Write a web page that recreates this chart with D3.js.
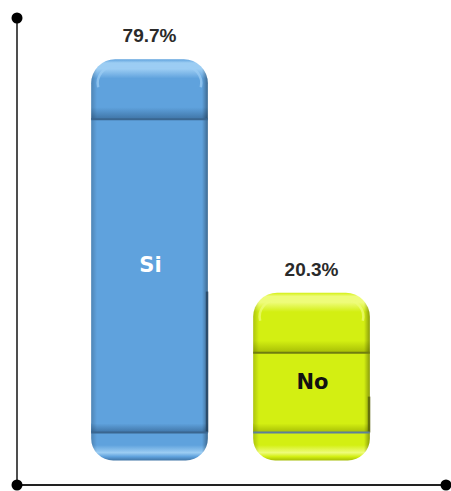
<!DOCTYPE html>
<html>
<head>
<meta charset="utf-8">
<script src="https://cdn.jsdelivr.net/npm/d3@7/dist/d3.min.js"></script>
<style>
  html, body { margin: 0; padding: 0; background: #ffffff; }
  svg { display: block; }
</style>
</head>
<body>
<svg id="chart" width="451" height="491"></svg>
<script>
// ---- data ----
const categories = ["Si", "No"];
const values = [79.7, 20.3];
const valueLabels = ["79.7%", "20.3%"];
const yDomain = [0, 100];

// ---- styling ----
const palettes = [
  { main: "#5fa2dd", light: "#9ccdf3", dark: "#3f74a6", line: "#3a6690", edge: "#24415c", text: "#ffffff", bottomLine: "#3a6690" },
  { main: "#d3ef12", light: "#eefc7a", dark: "#a6bd05", line: "#6f7d10", edge: "#55600a", text: "#111111", bottomLine: "#5c7f9a" }
];

const svg = d3.select("#chart");

const axisX = 17, axisTop = 18, axisBottom = 485, axisRight = 446;

const x = d3.scaleBand().domain(categories).range([68.5, 392.5]).paddingInner(0.28).paddingOuter(0.14);
const y = d3.scaleLinear().domain(yDomain).range([432.5, 39.5]);

const capTopH = 60, capBotH = 28, rTop = 24, rBot = 22;
const defs = svg.append("defs");

palettes.forEach((p, i) => {
  const gTop = defs.append("linearGradient").attr("id", "gTop" + i).attr("x1", 0).attr("y1", 0).attr("x2", 0).attr("y2", 1);
  [[0, p.main], [0.06, p.light], [0.16, p.light], [0.32, p.main], [0.8, p.main], [1, p.dark]]
    .forEach(s => gTop.append("stop").attr("offset", s[0]).attr("stop-color", s[1]));
  const gBot = defs.append("linearGradient").attr("id", "gBot" + i).attr("x1", 0).attr("y1", 0).attr("x2", 0).attr("y2", 1);
  [[0, p.main], [0.45, p.main], [0.72, p.light], [0.86, p.main], [1, p.dark]]
    .forEach(s => gBot.append("stop").attr("offset", s[0]).attr("stop-color", s[1]));
  const gBev = defs.append("linearGradient").attr("id", "gBev" + i).attr("x1", 0).attr("y1", 0).attr("x2", 0).attr("y2", 1);
  [[0, p.main], [1, p.dark]]
    .forEach(s => gBev.append("stop").attr("offset", s[0]).attr("stop-color", s[1]));
});
const gSide = defs.append("linearGradient").attr("id", "gSide").attr("x1", 0).attr("y1", 0).attr("x2", 1).attr("y2", 0);
[[0, "rgba(0,0,0,0.18)"], [0.05, "rgba(0,0,0,0)"], [0.95, "rgba(0,0,0,0)"], [1, "rgba(0,0,0,0.35)"]]
  .forEach(s => gSide.append("stop").attr("offset", s[0]).attr("stop-color", s[1]));

function topCapPath(x0, w, yT, h, r) {
  return `M${x0},${yT} V${yT - h + r} A${r},${r} 0 0 1 ${x0 + r},${yT - h} H${x0 + w - r} A${r},${r} 0 0 1 ${x0 + w},${yT - h + r} V${yT} Z`;
}
function botCapPath(x0, w, yB, h, r) {
  return `M${x0},${yB} H${x0 + w} V${yB + h - r} A${r},${r} 0 0 1 ${x0 + w - r},${yB + h} H${x0 + r} A${r},${r} 0 0 1 ${x0},${yB + h - r} Z`;
}

const bars = svg.append("g").selectAll("g").data(categories).join("g");

bars.each(function (c, i) {
  const g = d3.select(this);
  const p = palettes[i];
  const x0 = x(c), w = x.bandwidth();
  const yT = y(values[i]), yB = y(0);

  // body
  g.append("rect").attr("x", x0).attr("y", yT).attr("width", w).attr("height", yB - yT).attr("fill", p.main);
  g.append("rect").attr("x", x0).attr("y", yB - 9).attr("width", w).attr("height", 9).attr("fill", "url(#gBev" + i + ")");
  g.append("rect").attr("x", x0).attr("y", yT).attr("width", w).attr("height", yB - yT).attr("fill", "url(#gSide)");
  g.append("rect").attr("x", x0 + w - 2).attr("y", yT + (yB - yT) * 0.55).attr("width", 2.5).attr("height", (yB - yT) * 0.45).attr("fill", p.edge).attr("opacity", 0.8);

  // top cap
  g.append("path").attr("d", topCapPath(x0, w, yT, capTopH, rTop)).attr("fill", "url(#gTop" + i + ")");
  g.append("path").attr("d", topCapPath(x0, w, yT, capTopH, rTop)).attr("fill", "url(#gSide)");
  g.append("path")
    .attr("d", `M${x0 + 7},${yT - capTopH + rTop + 4} A${rTop - 7},${rTop - 7} 0 0 1 ${x0 + rTop},${yT - capTopH + 7} H${x0 + w - rTop} A${rTop - 7},${rTop - 7} 0 0 1 ${x0 + w - 7},${yT - capTopH + rTop + 4}`)
    .attr("fill", "none").attr("stroke", p.light).attr("stroke-width", 2.5).attr("opacity", 0.7);

  // bottom cap
  g.append("path").attr("d", botCapPath(x0, w, yB, capBotH, rBot)).attr("fill", "url(#gBot" + i + ")");
  g.append("path").attr("d", botCapPath(x0, w, yB, capBotH, rBot)).attr("fill", "url(#gSide)");

  // divider lines
  g.append("line").attr("x1", x0).attr("x2", x0 + w).attr("y1", yT).attr("y2", yT)
    .attr("stroke", p.line).attr("stroke-width", 2);
  g.append("line").attr("x1", x0).attr("x2", x0 + w).attr("y1", yB).attr("y2", yB)
    .attr("stroke", p.bottomLine).attr("stroke-width", 2);

  // value label
  g.append("text").attr("x", x0 + w / 2).attr("y", yT - capTopH - 17)
    .attr("text-anchor", "middle")
    .attr("font-family", "Liberation Sans, Arial, sans-serif").attr("font-weight", "bold")
    .attr("font-size", 19).attr("fill", "#2a2a2a").text(valueLabels[i]);

  // category label inside bar
  const mid = ((yT - capTopH) + (yB + capBotH)) / 2 + 5;
  g.append("text").attr("x", x0 + w / 2 + 1).attr("y", mid)
    .attr("text-anchor", "middle").attr("dominant-baseline", "central")
    .attr("font-family", "DejaVu Sans, Verdana, sans-serif").attr("font-weight", "bold")
    .attr("font-size", 21).attr("fill", p.text).text(c);
});

// ---- axes ----
const axes = svg.append("g");
axes.append("line").attr("x1", axisX).attr("x2", axisX).attr("y1", axisTop).attr("y2", axisBottom)
  .attr("stroke", "#222").attr("stroke-width", 1.6);
axes.append("line").attr("x1", axisX).attr("x2", axisRight).attr("y1", axisBottom).attr("y2", axisBottom)
  .attr("stroke", "#222").attr("stroke-width", 1.8);
[[axisX, axisTop], [axisX, axisBottom], [axisRight, axisBottom]].forEach(pt => {
  axes.append("circle").attr("cx", pt[0]).attr("cy", pt[1]).attr("r", 5.5).attr("fill", "#000");
});
</script>
</body>
</html>
